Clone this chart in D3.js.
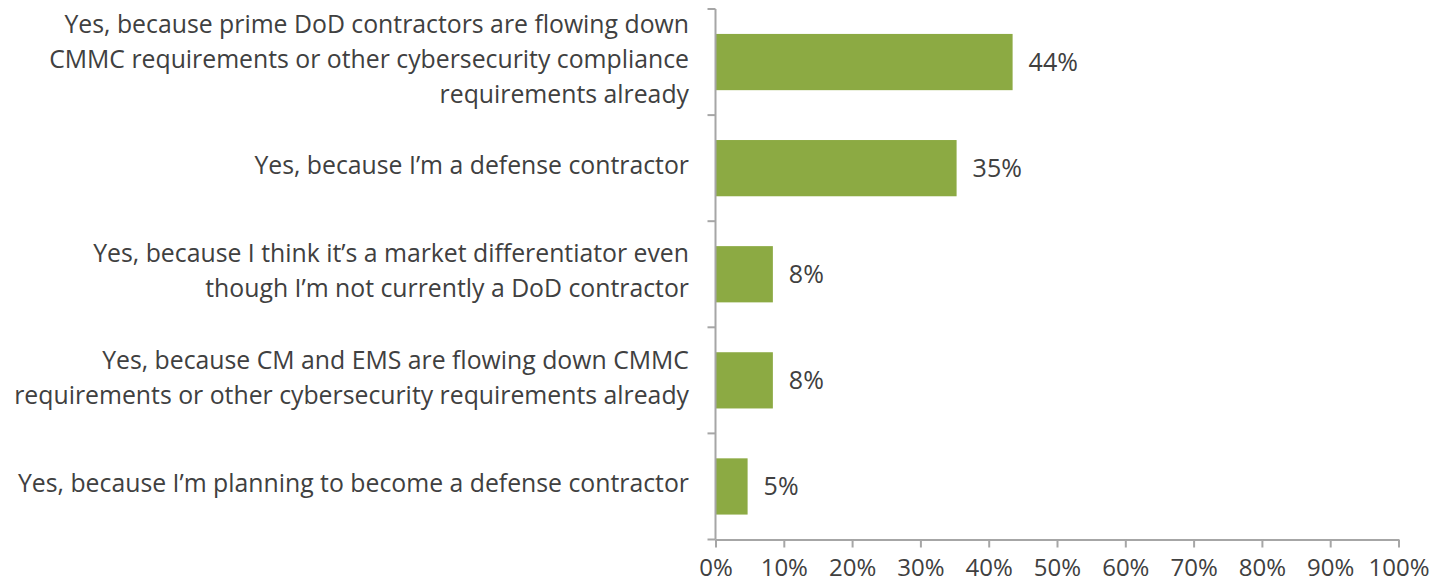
<!DOCTYPE html>
<html><head><meta charset="utf-8">
<script src="https://cdn.jsdelivr.net/npm/d3@7"></script>
<style>body{margin:0;background:#fff}svg{display:block}</style>
</head><body>
<script>
const categories = [
  ["Yes, because prime DoD contractors are flowing down","CMMC requirements or other cybersecurity compliance","requirements already"],
  ["Yes, because I\u2019m a defense contractor"],
  ["Yes, because I think it\u2019s a market differentiator even","though I\u2019m not currently a DoD contractor"],
  ["Yes, because CM and EMS are flowing down CMMC","requirements or other cybersecurity requirements already"],
  ["Yes, because I\u2019m planning to become a defense contractor"]
];
const values = [43.5, 35.3, 8.4, 8.4, 4.7];
const valueLabels = ["44%","35%","8%","8%","5%"];
const xTicks = [0,10,20,30,40,50,60,70,80,90,100];

const W=1436,H=584;
const mLeft=715.5, mRight=1398.5, mTop=9, mBottom=539.5;
const font="'Open Sans', Lato, sans-serif";
const textColor="#404040", axisColor="#a6a6a6", barColor="#8CAA43";

const svg=d3.select("body").append("svg").attr("width",W).attr("height",H);
const x=d3.scaleLinear().domain([0,100]).range([mLeft,mRight]);
const ids=categories.map((d,i)=>i);
const y=d3.scaleBand().domain(ids).range([mTop,mBottom]).paddingInner(0.47).paddingOuter(0.235);

// bars
svg.selectAll("rect.bar").data(values).join("rect")
  .attr("x",x(0)).attr("y",(d,i)=>y(i)).attr("width",d=>x(d)-x(0)).attr("height",y.bandwidth())
  .attr("fill",barColor);

// value labels
svg.selectAll("text.val").data(values).join("text")
  .attr("x",d=>x(d)+16).attr("y",(d,i)=>y(i)+y.bandwidth()/2)
  .attr("dy","0.36em").attr("font-family",font).attr("font-size",25).attr("fill",textColor)
  .text((d,i)=>valueLabels[i]);

// category labels
const lineH=35;
categories.forEach((lines,i)=>{
  const cy=y(i)+y.bandwidth()/2-3;
  const t=svg.append("text").attr("font-family",font).attr("font-size",24.8).attr("fill",textColor)
    .attr("text-anchor","end");
  lines.forEach((l,j)=>{
    t.append("tspan").attr("x",689).attr("y",cy+(j-(lines.length-1)/2)*lineH).attr("dy","0.35em").text(l);
  });
});

// y axis
const g=svg.append("g").attr("stroke",axisColor).attr("stroke-width",2).attr("fill","none");
g.append("line").attr("x1",mLeft).attr("x2",mLeft).attr("y1",mTop).attr("y2",mBottom);
const step=y.step();
const bounds=d3.range(categories.length+1).map(i=>y(0)-step*y.paddingInner()/2+i*step);
bounds.forEach(b=>{
  g.append("line").attr("x1",mLeft-8).attr("x2",mLeft).attr("y1",b).attr("y2",b);
});
// x axis
const xa=svg.append("g").attr("transform",`translate(0,${mBottom})`)
  .call(d3.axisBottom(x).tickValues(xTicks).tickSize(8).tickSizeOuter(0).tickPadding(11).tickFormat(d=>d+"%"));
xa.select(".domain").attr("stroke",axisColor).attr("stroke-width",2);
xa.selectAll(".tick line").attr("stroke",axisColor).attr("stroke-width",2);
xa.selectAll(".tick text").attr("font-family",font).attr("font-size",24).attr("fill",textColor);
</script>
</body></html>
